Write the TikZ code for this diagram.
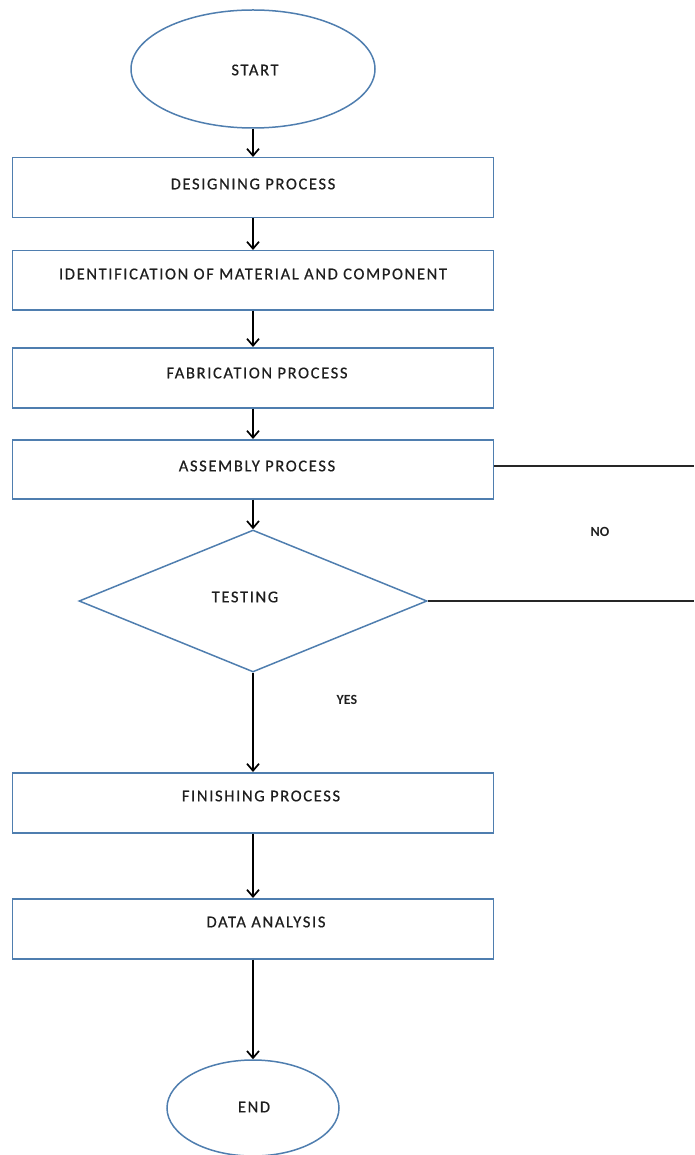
\documentclass[tikz,border=0pt]{standalone}
\usepackage{fontspec}
\setmainfont{Carlito}
\newfontfamily\spacedfont[LetterSpace=10,FakeBold=0.6]{Carlito}
\usetikzlibrary{shapes.geometric,arrows.meta}
\definecolor{edgeblue}{HTML}{4F7EAF}
\definecolor{txt}{HTML}{1E1E1E}
\tikzset{
  procbox/.style={draw=edgeblue,line width=1.5pt,minimum width=481pt,minimum height=60pt,inner sep=0pt,anchor=north},
  term/.style={draw=edgeblue,line width=1.5pt,ellipse,inner sep=0pt},
  decide/.style={draw=edgeblue,line width=1.5pt,diamond,inner sep=0pt},
  flow/.style={line width=1.9pt,-{Straight Barb[length=7pt,width=12pt,line width=1.7pt]}},
  plain/.style={line width=1.8pt,draw=black!85},
  lbl/.style={font=\bfseries\fontsize{14}{16}\selectfont,text=txt},
  txtlab/.style={font=\spacedfont\fontsize{16.5}{19}\selectfont,text=txt}
}
\begin{document}
\begin{tikzpicture}[x=1pt,y=-1pt]
\useasboundingbox (0,0) rectangle (694,1155);
\node[term,minimum width=244pt,minimum height=118pt] (start) at (253,69) {};
\node[txtlab] at (255,70) {START};
\node[procbox] (design) at (253,157) {};
\node[txtlab] at (253,184) {DESIGNING PROCESS};
\node[procbox,minimum height=59pt] (ident) at (253,250) {};
\node[txtlab] at (253,274) {IDENTIFICATION OF MATERIAL AND COMPONENT};
\node[procbox] (fab) at (253,347) {};
\node[txtlab] at (257,373) {FABRICATION PROCESS};
\node[procbox,minimum height=59pt] (assem) at (253,439) {};
\node[txtlab] at (257,466) {ASSEMBLY PROCESS};
\node[decide,minimum width=348pt,minimum height=142pt,aspect=2.45] (test) at (253,601) {};
\node[txtlab] at (245,597) {TESTING};
\node[procbox] (finish) at (253,772) {};
\node[txtlab] at (261,796) {FINISHING PROCESS};
\node[procbox] (data) at (253,898) {};
\node[txtlab] at (266,922) {DATA ANALYSIS};
\node[term,minimum width=172pt,minimum height=96pt] (stop) at (253,1108) {};
\node[txtlab] at (254,1107) {END};
\coordinate (noA) at (694,466);
\coordinate (noB) at (694,601);
\node[lbl] (no) at (600,532) {NO};
\node[lbl] (yes) at (347,700) {YES};
\draw[flow] (start.south) -- (design.north);
\draw[flow] (design.south) -- (ident.north);
\draw[flow] (ident.south) -- (fab.north);
\draw[flow] (fab.south) -- (assem.north);
\draw[flow] (assem.south) -- (test.north);
\draw[flow] (test.south) -- (finish.north);
\draw[flow] (finish.south) -- (data.north);
\draw[flow] (data.south) -- (stop.north);
\draw[plain] (assem.east |- noA) -- (noA);
\draw[plain] (test.east) -- (noB);
\end{tikzpicture}
\end{document}
